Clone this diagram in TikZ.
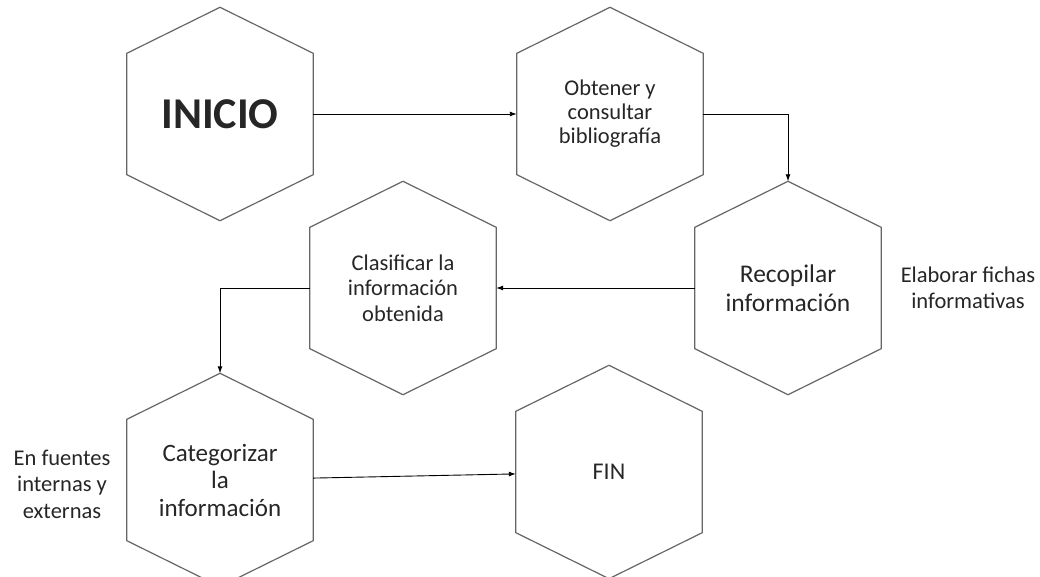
\documentclass[tikz,border=0pt]{standalone}
\usepackage{fontspec}
\setmainfont{Carlito}
\usetikzlibrary{arrows.meta}
\tikzset{
  hexbox/.style={minimum width=186pt, minimum height=121pt, inner sep=0pt,
    align=center, text=black!85},
  hexline/.style={draw=black!60, line width=1.2pt},
  flecha/.style={-{Latex[length=7pt,width=5pt]}, line width=0.9pt},
  nota/.style={align=center, text=black!85, font=\fontsize{22.5}{26.5}\selectfont}
}
\begin{document}
\begin{tikzpicture}[x=1pt,y=-1pt]
\useasboundingbox (0,0) rectangle (1040,577);
\clip (0,0) rectangle (1040,577);
%% the steps
\node[hexbox, font=\bfseries\fontsize{44}{50}\selectfont] (inicio) at (220,114) {INICIO};
\node[hexbox, font=\fontsize{22.5}{24}\selectfont] (obtener) at (610,114)
  {Obtener y\\consultar\\bibliografía};
\node[hexbox, font=\fontsize{25.5}{29}\selectfont] (recopilar) at (788,288)
  {Recopilar\\información};
\node[hexbox, font=\fontsize{22.5}{25.5}\selectfont] (clasificar) at (403,288)
  {Clasificar la\\información\\obtenida};
\node[hexbox, font=\fontsize{25}{27.5}\selectfont] (categorizar) at (220,480)
  {Categorizar\\la\\información};
\node[hexbox, font=\fontsize{24}{27}\selectfont] (fin) at (609,472) {FIN};
%% side notes
\node[nota] (fichas) at (968,288) {Elaborar fichas\\informativas};
\node[nota] (fuentes) at (62,484) {En fuentes\\internas y\\externas};
%% hexagon outlines
\foreach \n in {inicio,obtener,recopilar,clasificar,categorizar,fin} {
  \draw[hexline] (\n.north west) -- ([yshift=46pt]\n.north) -- (\n.north east)
    -- (\n.south east) -- ([yshift=-46pt]\n.south) -- (\n.south west) -- cycle;
}
%% connectors
\draw[flecha] (inicio) -- (obtener);
\draw[flecha] (obtener.east) -| ([yshift=46pt]recopilar.north);
\draw[flecha] (recopilar) -- (clasificar);
\draw[flecha] (clasificar.west) -| ([yshift=46pt]categorizar.north);
\draw[flecha] (categorizar) -- (fin);
\end{tikzpicture}
\end{document}
